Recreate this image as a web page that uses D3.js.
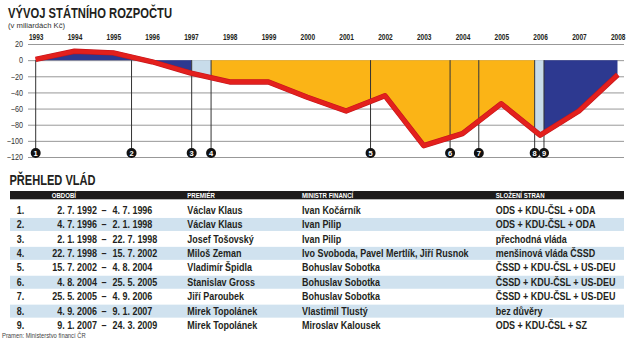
<!DOCTYPE html>
<html>
<head>
<meta charset="utf-8">
<script src="https://cdn.jsdelivr.net/npm/d3@7"></script>
<style>
  html, body { margin: 0; padding: 0; background: #fff; }
  svg { display: block; }
</style>
</head>
<body>
<svg id="c" width="640" height="347"></svg>
<script>
// ---------- DATA ----------
const years = [1993, 1994, 1995, 1996, 1997, 1998, 1999, 2000, 2001, 2002, 2003, 2004, 2005, 2006, 2007, 2008];
const balance = [1, 11, 9, -2, -16, -27, -27, -46, -63, -44, -106, -91, -54, -93, -63, -18];
const yTicks = [20, 0, -20, -40, -60, -80, -100, -120];

const govNo = [1, 2, 3, 4, 5, 6, 7, 8, 9];
// government start positions on the time axis (fractional years, as drawn)
const govMarkAt = [1994.0, 1996.47, 1998.02, 1998.52, 2002.63, 2004.68, 2005.42, 2006.86, 2007.10];
const govType = ["ods", "ods", "trans", "cssd", "cssd", "cssd", "cssd", "trans", "ods"];
const govFrom = ["2. 7. 1992", "4. 7. 1996", "2. 1. 1998", "22. 7. 1998", "15. 7. 2002", "4. 8. 2004", "25. 5. 2005", "4. 9. 2006", "9. 1. 2007"];
const govTo = ["4. 7. 1996", "2. 1. 1998", "22. 7. 1998", "15. 7. 2002", "4. 8. 2004", "25. 5. 2005", "4. 9. 2006", "9. 1. 2007", "24. 3. 2009"];
const premier = ["Václav Klaus", "Václav Klaus", "Josef Tošovský", "Miloš Zeman", "Vladimír Špidla", "Stanislav Gross", "Jiří Paroubek", "Mirek Topolánek", "Mirek Topolánek"];
const minister = ["Ivan Kočárník", "Ivan Pilip", "Ivan Pilip", "Ivo Svoboda, Pavel Mertlík, Jiří Rusnok", "Bohuslav Sobotka", "Bohuslav Sobotka", "Bohuslav Sobotka", "Vlastimil Tlustý", "Miroslav Kalousek"];
const parties = ["ODS + KDU-ČSL + ODA", "ODS + KDU-ČSL + ODA", "přechodná vláda", "menšinová vláda ČSSD", "ČSSD + KDU-ČSL + US-DEU", "ČSSD + KDU-ČSL + US-DEU", "ČSSD + KDU-ČSL + US-DEU", "bez důvěry", "ODS + KDU-ČSL + SZ"];
const headers = ["OBDOBÍ", "PREMIÉR", "MINISTR FINANCÍ", "SLOŽENÍ STRAN"];

// ---------- STYLE ----------
const colors = { ods: "#2d3990", trans: "#c8dcea", cssd: "#fbb416" };
const red = "#e3201d";
const FN = '"Liberation Sans", Arial, sans-serif';

const svg = d3.select("#c");
svg.append("rect").attr("width", 640).attr("height", 347).attr("fill", "#fff");

// condensed text helper: glyphs squeezed horizontally
function ctext(parent, x, y, sx, size, weight, anchor, fill) {
  return parent.append("text")
    .attr("transform", `translate(${x},${y}) scale(${sx},1)`)
    .attr("text-anchor", anchor || "start")
    .attr("font-family", FN).attr("font-size", size)
    .attr("font-weight", weight || "normal")
    .attr("fill", fill || "#231f20");
}

// ---------- TITLES ----------
svg.append("text").attr("x", 8).attr("y", 18.3)
  .attr("font-family", FN).attr("font-weight", "bold").attr("font-size", 15.5)
  .attr("fill", "#231f20").attr("textLength", 164).attr("lengthAdjust", "spacingAndGlyphs")
  .text("VÝVOJ STÁTNÍHO ROZPOČTU");
ctext(svg, 8, 27.8, 0.96, 8, "normal", "start", "#333").text("(v miliardách Kč)");

// ---------- SCALES ----------
const x = d3.scaleLinear().domain([1994, 2009]).range([35.7, 617.7]); // year-end positions
const y = d3.scaleLinear().domain([20, -120]).range([44, 157]);
const gridL = 28, gridR = 624;

const pts = years.map((yr, i) => ({ t: yr + 1, v: balance[i] }));

// grid + y labels
const yAxis = d3.axisLeft(y).tickValues(yTicks).tickSize(-(gridR - gridL)).tickPadding(4);
const gy = svg.append("g").attr("transform", `translate(${gridL},0)`).call(yAxis);
gy.select(".domain").remove();
gy.selectAll(".tick line").attr("stroke", "#8c8c8c").attr("stroke-width", 0.9);
gy.selectAll(".tick text").attr("font-family", FN).attr("font-size", 8.6).attr("fill", "#333")
  .attr("transform", "scale(0.84,1)").attr("x", -5 / 0.84);

// year labels
const xAxis = d3.axisTop(x).tickValues(years.map(d => d + 1)).tickFormat(d => d - 1).tickSize(0).tickPadding(0);
const gx = svg.append("g").attr("transform", "translate(0,40)").call(xAxis);
gx.select(".domain").remove();
gx.selectAll(".tick text").attr("font-family", FN).attr("font-weight", "bold").attr("font-size", 8.2)
  .attr("fill", "#231f20").attr("transform", "scale(0.8,1)");

// ---------- FILLS BY GOVERNMENT ----------
const area = d3.area().x(d => x(d.t)).y0(y(0)).y1(d => y(d.v));
const defs = svg.append("defs");
govMarkAt.forEach((s, i) => {
  const e = i < govMarkAt.length - 1 ? govMarkAt[i + 1] : 2009;
  defs.append("clipPath").attr("id", "gc" + i)
    .append("rect").attr("x", x(s)).attr("width", x(e) - x(s)).attr("y", 0).attr("height", 347);
  svg.append("path").datum(pts).attr("d", area)
    .attr("fill", colors[govType[i]]).attr("clip-path", `url(#gc${i})`);
});

// marker lines
svg.append("g").selectAll("line").data(govMarkAt).join("line")
  .attr("x1", d => x(d)).attr("x2", d => x(d))
  .attr("y1", y(0)).attr("y2", 153)
  .attr("stroke", "#333").attr("stroke-width", 1);

// red line
const line = d3.line().x(d => x(d.t)).y(d => y(d.v));
svg.append("path").datum(pts).attr("d", line)
  .attr("fill", "none").attr("stroke", "#c4161c").attr("stroke-width", 5.4).attr("stroke-linejoin", "round");
svg.append("path").datum(pts).attr("d", line)
  .attr("fill", "none").attr("stroke", red).attr("stroke-width", 4.2).attr("stroke-linejoin", "round");

// numbered circles
const mk = svg.append("g").selectAll("g").data(govMarkAt).join("g")
  .attr("transform", d => `translate(${x(d)},153)`);
mk.append("circle").attr("r", 5).attr("fill", "#111");
mk.append("text").attr("text-anchor", "middle").attr("dy", "0.36em")
  .attr("font-family", FN).attr("font-weight", "bold").attr("font-size", 7.5).attr("fill", "#fff")
  .text((d, i) => govNo[i]);

// ---------- TABLE ----------
svg.append("text").attr("x", 9.5).attr("y", 185)
  .attr("font-family", FN).attr("font-weight", "bold").attr("font-size", 15)
  .attr("fill", "#231f20").attr("textLength", 86).attr("lengthAdjust", "spacingAndGlyphs")
  .text("PŘEHLED VLÁD");

const tL = 10, tR = 624;
svg.append("rect").attr("x", tL).attr("y", 191).attr("width", tR - tL).attr("height", 8.3).attr("fill", "#1d1b1b");
const hdrX = [51.7, 187.3, 302, 495.7];
headers.forEach((h, i) => ctext(svg, hdrX[i], 197.5, 0.95, 6.4, "bold", "start", "#fff").text(h));

const rowY = d3.scaleLinear().domain([1, 9]).range([210, 325.6]);
const rows = svg.append("g").selectAll("g").data(govNo).join("g")
  .attr("transform", d => `translate(0,${rowY(d)})`);
rows.filter(d => d % 2 === 0).append("rect")
  .attr("x", tL).attr("y", -6.5).attr("width", tR - tL).attr("height", 13).attr("fill", "#d0e2ef");
const SX = 0.87, FS = 10.3;
rows.each(function (d, i) {
  const g = d3.select(this);
  ctext(g, 16.7, 3.6, SX, FS, "bold").text(d + ".");
  ctext(g, 97, 3.6, SX, FS, "bold", "end").text(govFrom[i]);
  ctext(g, 104, 3.6, SX, FS, "bold", "middle").text("–");
  ctext(g, 112.5, 3.6, SX, FS, "bold").text(govTo[i]);
  ctext(g, 187.3, 3.6, SX, FS, "bold").text(premier[i]);
  ctext(g, 302, 3.6, SX, FS, "bold").text(minister[i]);
  ctext(g, 495.7, 3.6, SX, FS, "bold").text(parties[i]);
});

ctext(svg, 2, 338.2, 0.9, 6.5, "normal", "start", "#444").text("Pramen: Ministerstvo financí ČR");
</script>
</body>
</html>
